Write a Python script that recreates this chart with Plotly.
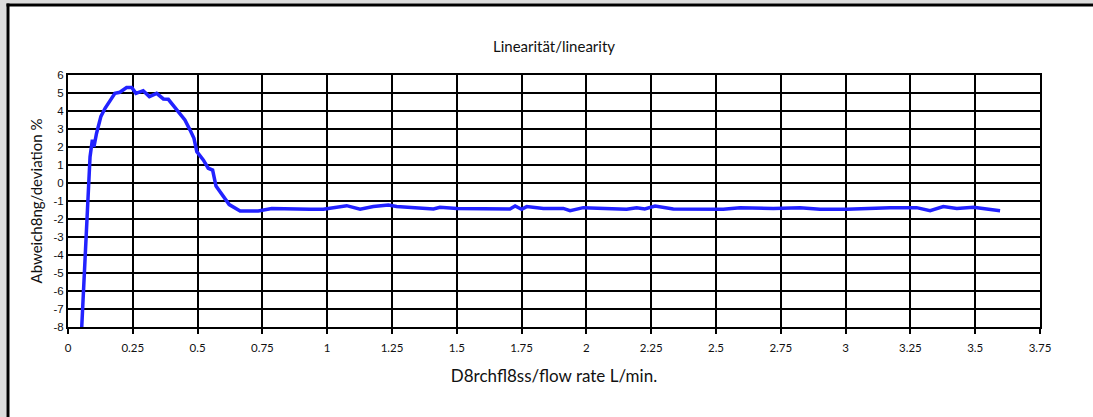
import plotly.graph_objects as go

# Data
flow = [
    0.053, 0.066, 0.075, 0.085, 0.094, 0.100, 0.110, 0.127, 0.143, 0.169,
    0.181, 0.200, 0.226, 0.246, 0.262, 0.290, 0.314, 0.342, 0.368, 0.387,
    0.419, 0.451, 0.471, 0.486, 0.497, 0.522, 0.541, 0.558, 0.571, 0.600,
    0.622, 0.664, 0.734, 0.786, 0.840, 0.934, 0.985, 1.075, 1.127, 1.178,
    1.236, 1.268, 1.410, 1.435, 1.500, 1.705, 1.725, 1.750, 1.770, 1.834,
    1.911, 1.937, 1.988, 2.117, 2.155, 2.194, 2.225, 2.265, 2.335, 2.528,
    2.593, 2.721, 2.824, 2.901, 3.004, 3.171, 3.274, 3.326, 3.377, 3.429,
    3.493, 3.596,
]
deviation = [
    -8.0, -4.3, -1.1, 1.45, 2.4, 2.0, 2.75, 3.7, 4.15, 4.7,
    4.98, 5.04, 5.3, 5.3, 4.98, 5.13, 4.8, 4.98, 4.67, 4.65,
    4.06, 3.5, 2.94, 2.48, 1.74, 1.28, 0.82, 0.72, -0.17, -0.76,
    -1.2, -1.56, -1.56, -1.42, -1.45, -1.46, -1.46, -1.26, -1.46, -1.31,
    -1.22, -1.31, -1.44, -1.35, -1.41, -1.44, -1.28, -1.46, -1.31, -1.41,
    -1.41, -1.54, -1.37, -1.41, -1.46, -1.37, -1.44, -1.28, -1.44, -1.46,
    -1.37, -1.41, -1.37, -1.46, -1.46, -1.37, -1.37, -1.54, -1.31, -1.41,
    -1.35, -1.54,
]
x_ticks = [0, 0.25, 0.5, 0.75, 1, 1.25, 1.5, 1.75, 2, 2.25, 2.5, 2.75, 3, 3.25, 3.5, 3.75]
x_tick_labels = ["0", "0.25", "0.5", "0.75", "1", "1.25", "1.5", "1.75", "2",
                 "2.25", "2.5", "2.75", "3", "3.25", "3.5", "3.75"]
y_ticks = [6, 5, 4, 3, 2, 1, 0, -1, -2, -3, -4, -5, -6, -7, -8]
y_tick_labels = ["6", "5", "4", "3", "2", "1", "0", "-1", "-2", "-3", "-4",
                 "-5", "-6", "-7", "-8"]

W, H = 1093, 417
L, R, T, B = 68, 53, 75, 90
pw, ph = W - L - R, H - T - B

def px(xpix):
    return (xpix - L) / pw

def py(ypix):
    return (H - B - ypix) / ph

GRAY = "#dcdcdc"
fig = go.Figure()
fig.add_trace(go.Scatter(
    x=flow, y=deviation, mode="lines",
    line=dict(color="#2222ff", width=3.5),
    showlegend=False, hoverinfo="skip",
))

fig.update_layout(
    width=W, height=H,
    margin=dict(l=L, r=R, t=T, b=B),
    paper_bgcolor="white",
    plot_bgcolor="rgba(0,0,0,0)",
    title=dict(text="Linearität/linearity", x=554 / W, xanchor="center",
               y=1 - 47 / H, yanchor="middle",
               font=dict(family="Lato, Open Sans, sans-serif", size=15, color="#111")),
    shapes=[
        # outer gray strips (top and left)
        dict(type="rect", xref="paper", yref="paper", layer="above",
             x0=px(0), x1=px(W), y0=py(3.5), y1=py(0),
             fillcolor=GRAY, line=dict(width=0)),
        dict(type="rect", xref="paper", yref="paper", layer="above",
             x0=px(0), x1=px(6.5), y0=py(H), y1=py(0),
             fillcolor=GRAY, line=dict(width=0)),
        # black frame lines
        dict(type="line", xref="paper", yref="paper", layer="above",
             x0=px(6.5), x1=px(W), y0=py(5), y1=py(5),
             line=dict(color="black", width=3)),
        dict(type="line", xref="paper", yref="paper", layer="above",
             x0=px(8), x1=px(8), y0=py(3.5), y1=py(H),
             line=dict(color="black", width=3)),
    ],
    xaxis=dict(
        range=[0, 3.75], tickvals=x_ticks, ticktext=x_tick_labels,
        showgrid=True, gridcolor="black", gridwidth=2,
        showline=True, linecolor="black", linewidth=2, mirror=True,
        ticks="outside", ticklen=5, tickcolor="black", tickwidth=1.5,
        ticklabelstandoff=4,
        zeroline=False,
        tickfont=dict(family="Lato, Open Sans, sans-serif", size=11.5, color="#111"),
        title=dict(text="D8rchfl8ss/flow rate L/min.", standoff=17,
                   font=dict(family="Lato, Open Sans, sans-serif", size=17, color="#111")),
    ),
    yaxis=dict(
        range=[-8, 6], tickvals=y_ticks, ticktext=y_tick_labels,
        showgrid=True, gridcolor="black", gridwidth=2,
        showline=True, linecolor="black", linewidth=2, mirror=True,
        ticks="", zeroline=False,
        tickfont=dict(family="Liberation Sans, Arial, sans-serif", size=11.5, color="#111"),
        title=dict(text="Abweich8ng/deviation %", standoff=7,
                   font=dict(family="Lato, Open Sans, sans-serif", size=15, color="#111")),
    ),
)

fig.write_html("out.html", config={"displayModeBar": False},
               post_script="document.body.style.margin='0';")
